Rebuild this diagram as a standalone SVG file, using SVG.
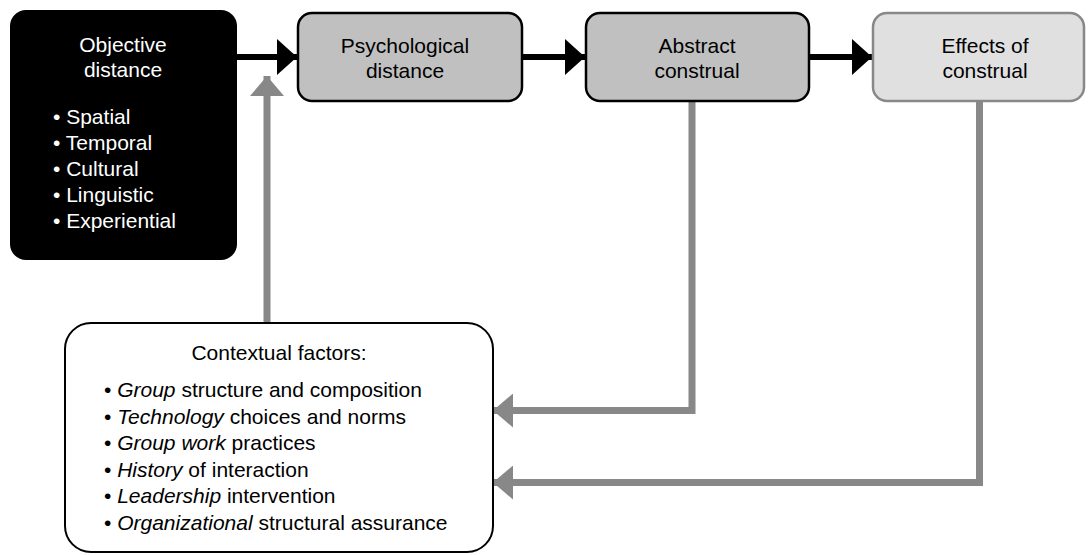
<svg xmlns="http://www.w3.org/2000/svg" width="1088" height="555" viewBox="0 0 1088 555">
<style>
text{font-family:"Liberation Sans",Arial,sans-serif;font-size:21px;fill:#000}
.w{fill:#fff}
.c{text-anchor:middle}
.i{font-style:italic}
.blk{stroke:#000;stroke-width:6;fill:none}
.gry{stroke:#888;stroke-width:7;fill:none}
</style>
<defs>
<marker id="ab" markerUnits="userSpaceOnUse" markerWidth="20" markerHeight="36" refX="20" refY="18" orient="auto"><path d="M0,0 L20,18 L0,36 Z" fill="#000"/></marker>
<marker id="ag" markerUnits="userSpaceOnUse" markerWidth="20" markerHeight="34" refX="20" refY="17" orient="auto"><path d="M0,0 L20,17 L0,34 Z" fill="#888"/></marker>
</defs>
<g id="connectors">
<path class="blk" d="M237,57 H297" marker-end="url(#ab)"/>
<path class="blk" d="M523,57 H585" marker-end="url(#ab)"/>
<path class="blk" d="M810,57 H872" marker-end="url(#ab)"/>
<path class="gry" d="M267,323 V76" marker-end="url(#ag)"/>
<path class="gry" d="M692,102 V410.5 H493" marker-end="url(#ag)"/>
<path class="gry" d="M979.5,102 V482.5 H493" marker-end="url(#ag)"/>
</g>
<g id="objective">
<rect x="10" y="10" width="227" height="250" rx="16" fill="#000"/>
<text class="w c" x="123" y="52">Objective</text>
<text class="w c" x="123" y="77">distance</text>
<text class="w" x="53" y="124">• Spatial</text>
<text class="w" x="53" y="150">• Temporal</text>
<text class="w" x="53" y="176">• Cultural</text>
<text class="w" x="53" y="202">• Linguistic</text>
<text class="w" x="53" y="228">• Experiential</text>
</g>
<g id="psychological">
<rect x="298" y="13" width="224" height="88" rx="14" fill="#c0c0c0" stroke="#000" stroke-width="2.5"/>
<text class="c" x="405" y="53">Psychological</text>
<text class="c" x="405" y="78">distance</text>
</g>
<g id="abstract">
<rect x="586" y="13" width="223" height="88" rx="14" fill="#c0c0c0" stroke="#000" stroke-width="2.5"/>
<text class="c" x="697" y="53">Abstract</text>
<text class="c" x="697" y="78">construal</text>
</g>
<g id="effects">
<rect x="873" y="13" width="211" height="88" rx="14" fill="#e0e0e0" stroke="#888" stroke-width="2.5"/>
<text class="c" x="985" y="53">Effects of</text>
<text class="c" x="985" y="78">construal</text>
</g>
<g id="contextual">
<rect x="65" y="323" width="428" height="229" rx="26" fill="#fff" stroke="#000" stroke-width="2"/>
<text class="c" x="279" y="360">Contextual factors:</text>
<text x="104" y="397">• <tspan class="i">Group</tspan> structure and composition</text>
<text x="104" y="424">• <tspan class="i">Technology</tspan> choices and norms</text>
<text x="104" y="450">• <tspan class="i">Group work</tspan> practices</text>
<text x="104" y="477">• <tspan class="i">History</tspan> of interaction</text>
<text x="104" y="503">• <tspan class="i">Leadership</tspan> intervention</text>
<text x="104" y="530">• <tspan class="i">Organizational</tspan> structural assurance</text>
</g>
</svg>
